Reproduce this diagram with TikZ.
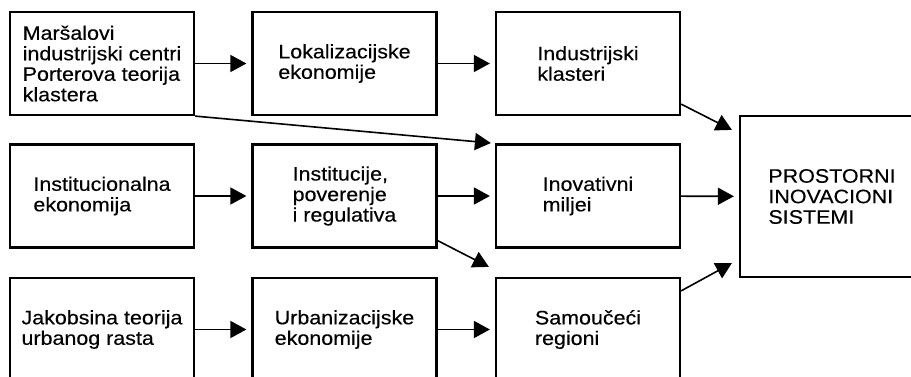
\documentclass[tikz,border=0pt]{standalone}
\usepackage{fontspec}
\setmainfont{Liberation Sans}[FakeStretch=1.1, FakeBold=0.3]
\usepackage{tikz}
\usetikzlibrary{calc}
\usetikzlibrary{positioning}
\usetikzlibrary{arrows.meta}
\tikzset{every picture/.style={semithick, >={Triangle[length=16pt,width=17pt]}}}

\begin{document}
\begin{tikzpicture}[x=1pt,y=-1pt,
                    box/.style={draw, line width=2.2pt, minimum width=184pt, minimum height=103pt,
                                inner sep=0pt, align=left, font=\fontsize{19.5}{20.5}\selectfont},
                    conn/.style={->, line width=1.6pt, shorten >=5pt}]
                    \useasboundingbox (0,0) rectangle (911,377);
                    \node[box] (mar) at (102,63.5) {Maršalovi\\industrijski centri\\Porterova teorija\\klastera};
                    \node[box] (lok) at (344.5,63.5) {Lokalizacijske\\ekonomije};
                    \node[box] (ind) at (588,63.5) {Industrijski\\klasteri};
                    \node[box] (iek) at (102,196) {Institucionalna\\ekonomija};
                    \node[box] (inst) at (344.5,196) {Institucije,\\poverenje\\i regulativa};
                    \node[box] (inov) at (588,196) {Inovativni\\miljei};
                    \node[box] (jak) at (102,329.5) {Jakobsina teorija\\urbanog rasta};
                    \node[box] (urb) at (344.5,329.5) {Urbanizacijske\\ekonomije};
                    \node[box] (samo) at (588,329.5) {Samoučeći\\regioni};
                    \node[box, minimum height=161pt] (pis) at (832,196.5) {PROSTORNI\\INOVACIONI\\SISTEMI};
                    \draw[conn] (mar) -- (lok);
                    \draw[conn] (lok) -- (ind);
                    \draw[conn] (iek) -- (inst);
                    \draw[conn] (inst) -- (inov);
                    \draw[conn] (inov) -- (pis);
                    \draw[conn] (jak) -- (urb);
                    \draw[conn] (urb) -- (samo);
                    \draw[conn, shorten >=4pt] (mar.south east) -- (inov.north west);
                    \draw[conn, shorten >=0pt] ($(ind.south east)+(0,-12)$) -- ($(pis.north west)+(-7,15)$);
                    \draw[conn, shorten >=0pt] ($(inst.south east)+(0,-8)$) -- ($(samo.north west)+(-6,-10)$);
                    \draw[conn, shorten >=0pt] ($(samo.north east)+(0,14)$) -- ($(pis.south west)+(-7,-15)$);
                \end{tikzpicture}
\end{document}
